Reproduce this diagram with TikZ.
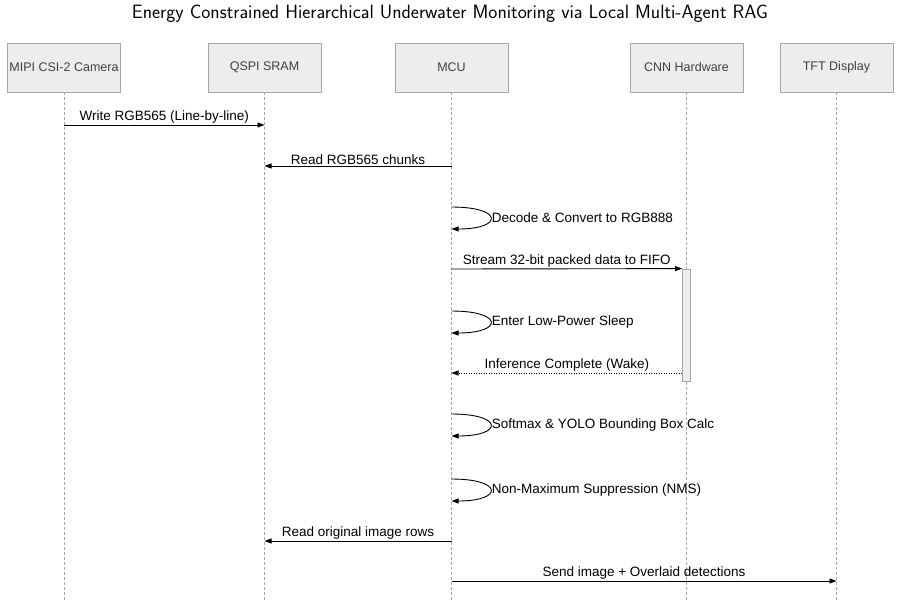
\documentclass[tikz,border=0pt]{standalone}
\usepackage{fontspec}
\newfontfamily\lblfont{Liberation Sans}
\usepackage{xcolor}
\usepackage{tikz}
\usetikzlibrary{arrows.meta}
\usetikzlibrary{positioning}
\definecolor{boxfill}{HTML}{EDEDED}
\definecolor{boxline}{HTML}{A6A6A6}
\definecolor{boxtext}{HTML}{404040}
\tikzset{
    actor/.style = {rectangle, draw=boxline, fill=boxfill, text=boxtext, line width=0.8pt, minimum width=113pt, minimum height=49pt, inner sep=0pt, font=\lblfont\fontsize{12.5}{14}\selectfont},
    actbar/.style = {rectangle, draw=boxline, fill=boxfill, line width=0.8pt, minimum width=8pt, minimum height=112pt, inner sep=0pt},
}

\begin{document}
\begin{tikzpicture}[
	x=1pt,
	y=-1pt,
	font=\lblfont\fontsize{13.5}{16}\selectfont
]
\tikzset{
    lifeline/.style = {boxline, line width=0.6pt, dash pattern=on 3pt off 2pt},
    msg/.style = {-{Triangle[length=7pt,width=5pt]}, line width=0.9pt},
    reply/.style = {msg, dash pattern=on 1pt off 1.5pt},
    msglabel/.style = {above, inner sep=1pt},
    selflabel/.style = {pos=0.5, right, inner sep=1pt}
}
\useasboundingbox (0,0) rectangle (901,607);
\node[font=\sffamily\fontsize{19.3}{21}\selectfont] at (450,14) (title) {Energy Constrained Hierarchical Underwater Monitoring via Local Multi-Agent RAG};
%
\node[actor] at (64,67.5) (cam) {MIPI CSI-2 Camera};
\node[actor] at (264.5,67.5) (sram) {QSPI SRAM};
\node[actor] at (451.5,67.5) (mcu) {MCU};
\node[actor] at (686.5,67.5) (cnn) {CNN Hardware};
\node[actor] at (836.5,67.5) (tft) {TFT Display};
%
\foreach \who in {cam,sram,mcu,cnn,tft}
    \draw[lifeline] (\who.south) -- (\who |- 0,600);
\node[actbar] at (686.5,325) (cnnact) {};
%
\draw[msg] (cam |- 0,125) -- node[msglabel] {Write RGB565 (Line-by-line)} (sram |- 0,125);
\draw[msg] (mcu |- 0,166) -- node[msglabel] {Read RGB565 chunks} (sram |- 0,166);
\draw[msg] (mcu |- 0,207) .. controls +(52,0) and +(52,0) .. node[selflabel] {Decode \& Convert to RGB888} (mcu |- 0,229);
\draw[msg] (mcu |- 0,269) -- node[msglabel] {Stream 32-bit packed data to FIFO} (cnnact.north west);
%
\draw[msg] (mcu |- 0,311) .. controls +(52,0) and +(52,0) .. node[selflabel] {Enter Low-Power Sleep} (mcu |- 0,333);
\draw[reply] (cnnact.west |- 0,373) -- node[msglabel] {Inference Complete (Wake)} (mcu |- 0,373);
%
\draw[msg] (mcu |- 0,414) .. controls +(52,0) and +(52,0) .. node[selflabel] {Softmax \& YOLO Bounding Box Calc} (mcu |- 0,436);
\draw[msg] (mcu |- 0,479) .. controls +(52,0) and +(52,0) .. node[selflabel] {Non-Maximum Suppression (NMS)} (mcu |- 0,501);
%
\draw[msg] (mcu |- 0,541) -- node[msglabel] {Read original image rows} (sram |- 0,541);
\draw[msg] (mcu |- 0,581) -- node[msglabel] {Send image + Overlaid detections} (tft |- 0,581);
\end{tikzpicture}
\end{document}
